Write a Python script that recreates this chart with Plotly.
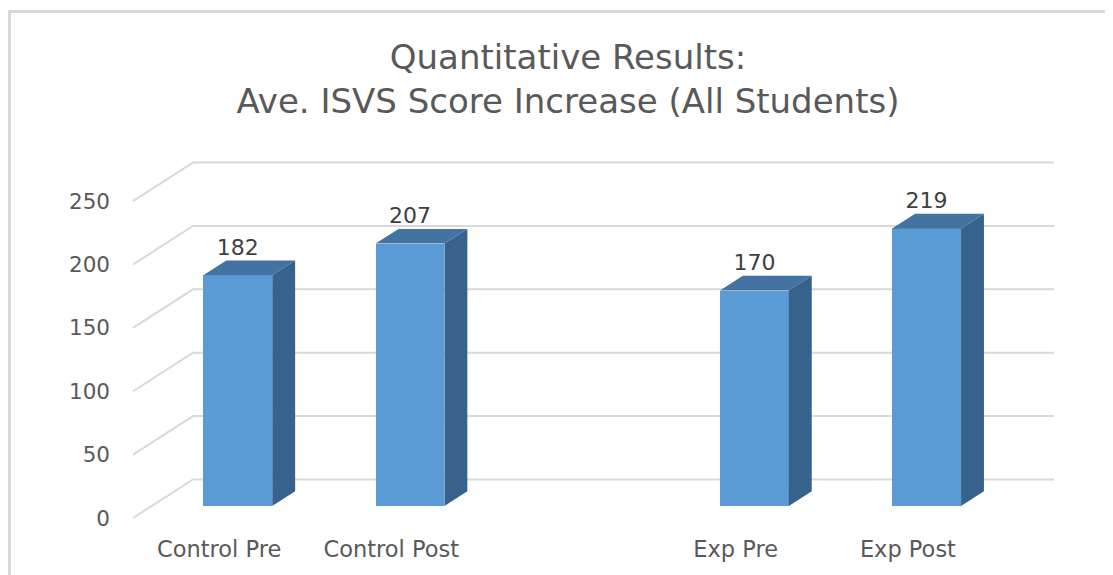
import plotly.graph_objects as go

# ---------------- data ----------------
categories = ["Control Pre", "Control Post", "", "Exp Pre", "Exp Post"]
values = [182, 207, None, 170, 219]
y_ticks = [0, 50, 100, 150, 200, 250]
title_lines = ["Quantitative Results:", "Ave. ISVS Score Increase (All Students)"]

# ---------------- geometry / style ----------------
OFF = 8                      # default page body margin of the html page
W, H = 1113 - OFF, 575 - OFF
ML, MR, MT, MB = 115 - OFF, 0, 140 - OFF, 45
CAT_PX = 172.2               # pixels per category slot
VAL_PX = 1.2676              # pixels per value unit
X0_PX = 151.7 - OFF          # left edge of category band (bar front plane)
Y0_PX = 506.0 - OFF          # zero line of bar front plane
DEPTH_PX = (60.0, 38.5)      # oblique depth of the whole 3D box
FRONT_GAP = 12.0 / 38.5      # depth fraction before bar front
BAR_DEPTH = 14.7 / 38.5      # depth fraction of the bar itself
BAR_W = 0.4

FRONT = "#5B9BD5"
SIDE = "#37628B"
TOP = "#4273A1"
GRID = "#D9D9D9"
TXT = "#595959"
FONT = "DejaVu Sans"

pw, ph = W - ML - MR, H - MT - MB
x_range = [(ML - X0_PX) / CAT_PX - 0.5, (W - MR - X0_PX) / CAT_PX - 0.5]
y_range = [(Y0_PX - (H - MB)) / VAL_PX, (Y0_PX - MT) / VAL_PX]

ddx, ddy = DEPTH_PX[0] / CAT_PX, DEPTH_PX[1] / VAL_PX
fx, fy = -FRONT_GAP * ddx, -FRONT_GAP * ddy            # front plane offset
bx, by = BAR_DEPTH * ddx, BAR_DEPTH * ddy              # bar depth offset
wx, wy = (1 - FRONT_GAP) * ddx, (1 - FRONT_GAP) * ddy  # back wall offset

n = len(categories)
pos = list(range(n))

fig = go.Figure()

# front faces
bx_list = [p for p, v in zip(pos, values) if v is not None]
bv_list = [v for v in values if v is not None]
fig.add_trace(go.Bar(x=bx_list, y=bv_list, width=BAR_W,
                     marker=dict(color=FRONT, line=dict(width=0)),
                     hoverinfo="skip", showlegend=False))

# side and top faces
h = BAR_W / 2
for p, v in zip(bx_list, bv_list):
    fig.add_trace(go.Scatter(
        x=[p + h, p + h + bx, p + h + bx, p + h, p + h],
        y=[0, by, v + by, v, 0],
        fill="toself", fillcolor=SIDE, mode="lines", line=dict(width=0, color=SIDE),
        hoverinfo="skip", showlegend=False))
    fig.add_trace(go.Scatter(
        x=[p - h, p + h, p + h + bx, p - h + bx, p - h],
        y=[v, v, v + by, v + by, v],
        fill="toself", fillcolor=TOP, mode="lines", line=dict(width=0, color=TOP),
        hoverinfo="skip", showlegend=False))

# data labels
fig.add_trace(go.Scatter(
    x=bx_list, y=[v + by for v in bv_list], text=[str(v) for v in bv_list],
    mode="text", textposition="top center",
    textfont=dict(family=FONT, size=22, color="#404040"),
    hoverinfo="skip", showlegend=False, cliponaxis=False))

# gridlines (front diagonal + back wall)
shapes = []
left, right = -0.5, n - 0.5
for t in y_ticks:
    path = f"M {left + fx},{t + fy} L {left + wx},{t + wy} L {right + wx},{t + wy}"
    shapes.append(dict(type="path", path=path, xref="x", yref="y", layer="below",
                       line=dict(color=GRID, width=2)))


def px2paper(xp, yp):
    return (xp - ML) / pw, 1 - (yp - MT) / ph


# outer border
bl = px2paper(9.5 - OFF, H + 5)
tl = px2paper(9.5 - OFF, 11.5 - OFF)
tr = px2paper(W + 5, 11.5 - OFF)
shapes.append(dict(type="path", xref="paper", yref="paper",
                   path=f"M {bl[0]},{bl[1]} L {tl[0]},{tl[1]} L {tr[0]},{tr[1]}",
                   line=dict(color=GRID, width=3)))

fig.update_layout(
    width=W, height=H,
    margin=dict(l=ML, r=MR, t=MT, b=MB),
    paper_bgcolor="white", plot_bgcolor="white",
    showlegend=False,
    bargap=0,
    title=dict(text="<br>".join(title_lines), x=(568 - OFF) / W, xref="container",
               xanchor="center", y=1 - 61 / H, yref="container", yanchor="top",
               font=dict(family=FONT, size=34, color=TXT)),
    shapes=shapes,
    xaxis=dict(range=x_range, showgrid=False, zeroline=False, showline=False,
               tickmode="array", tickvals=[p + fx for p in pos], ticktext=categories,
               ticks="", ticklabelstandoff=3,
               tickfont=dict(family=FONT, size=22.5, color=TXT),
               fixedrange=True),
    yaxis=dict(range=y_range, showgrid=False, zeroline=False, showline=False,
               tickmode="array", tickvals=[t + fy for t in y_ticks],
               ticktext=[str(t) for t in y_ticks],
               ticks="", ticklabelstandoff=4,
               tickfont=dict(family=FONT, size=21.5, color=TXT),
               fixedrange=True),
)

fig.write_html("out.html")
